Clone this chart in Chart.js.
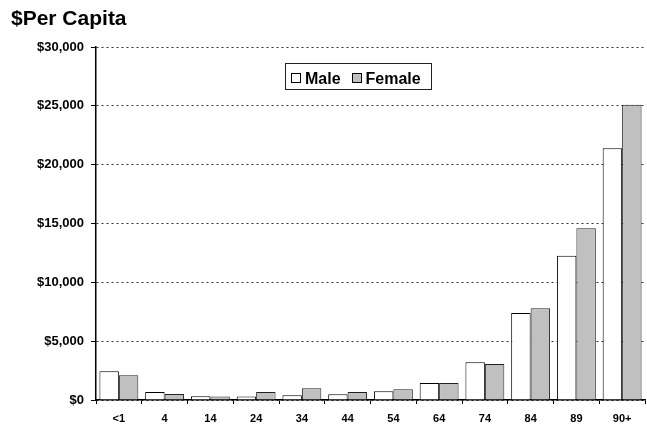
<!DOCTYPE html>
<html>
<head>
<meta charset="utf-8">
<script src="https://cdn.jsdelivr.net/npm/chart.js@4/dist/chart.umd.min.js"></script>
<style>
  html, body { margin: 0; padding: 0; background: #fff; }
  #wrap { width: 647px; height: 424px; position: relative; }
</style>
</head>
<body>
<div id="wrap"><canvas id="c" width="647" height="424"></canvas></div>
<script>
const chartTitle = '$Per Capita';
const categories = ['<1', '4', '14', '24', '34', '44', '54', '64', '74', '84', '89', '90+'];
const seriesNames = ['Male', 'Female'];
const maleValues = [2450, 680, 320, 300, 400, 490, 740, 1450, 3200, 7400, 12250, 21400];
const femaleValues = [2100, 510, 300, 680, 1000, 680, 910, 1450, 3050, 7800, 14600, 25100];
const yTickValues = [0, 5000, 10000, 15000, 20000, 25000, 30000];

const FONT = '"Liberation Sans", Arial, sans-serif';

const titlePlugin = {
  id: 'customTitle',
  afterDraw(chart) {
    const ctx = chart.ctx;
    ctx.save();
    ctx.font = 'bold 21px ' + FONT;
    ctx.fillStyle = '#000';
    ctx.textBaseline = 'alphabetic';
    ctx.textAlign = 'left';
    ctx.fillText(chartTitle, 11, 25);
    ctx.restore();
  }
};

const boxLegendPlugin = {
  id: 'boxLegend',
  afterDraw(chart) {
    const ctx = chart.ctx;
    const x0 = 285, y0 = 63, w = 146, h = 26;
    ctx.save();
    ctx.fillStyle = '#fff';
    ctx.fillRect(x0, y0, w, h);
    ctx.strokeStyle = '#222';
    ctx.lineWidth = 1;
    ctx.strokeRect(x0 + 0.5, y0 + 0.5, w, h);
    ctx.font = 'bold 16px ' + FONT;
    ctx.textBaseline = 'alphabetic';
    ctx.textAlign = 'left';
    const swatchX = [291, 352];
    const textX = [305, 365.5];
    chart.data.datasets.forEach((ds, i) => {
      ctx.fillStyle = ds.backgroundColor;
      ctx.fillRect(swatchX[i], 73, 10, 10);
      ctx.strokeStyle = '#000';
      ctx.strokeRect(swatchX[i] + 0.5, 73.5, 9, 9);
      ctx.fillStyle = '#000';
      ctx.fillText(ds.label, textX[i], 83.5);
    });
    ctx.restore();
  }
};

new Chart(document.getElementById('c'), {
  type: 'bar',
  data: {
    labels: categories,
    datasets: [
      { label: seriesNames[0], data: maleValues, backgroundColor: '#ffffff', borderColor: '#000000', borderWidth: 1 },
      { label: seriesNames[1], data: femaleValues, backgroundColor: '#c0c0c0', borderColor: '#222222', borderWidth: 1 }
    ]
  },
  options: {
    responsive: false,
    devicePixelRatio: 1,
    animation: false,
    layout: { padding: { left: 0, right: 2, top: 47, bottom: 0 } },
    datasets: { bar: { categoryPercentage: 0.85, barPercentage: 1.0 } },
    plugins: {
      legend: { display: false },
      title: { display: false },
      tooltip: { enabled: false }
    },
    scales: {
      x: {
        afterFit(scale) { scale.height = 24; },
        grid: {
          display: true, drawOnChartArea: false, offset: true,
          tickLength: 4, tickColor: '#000', tickWidth: 1
        },
        border: { display: true, color: '#000', width: 1.5 },
        ticks: {
          color: '#000', padding: 8,
          font: { family: FONT, size: 11, weight: 'bold' },
          maxRotation: 0, autoSkip: false
        }
      },
      y: {
        min: 0, max: 30000,
        afterFit(scale) { scale.width = 96; },
        afterBuildTicks(scale) { scale.ticks = yTickValues.map(v => ({ value: v })); },
        grid: {
          display: true, color: '#333', lineWidth: 1,
          tickLength: 5, tickColor: '#000', tickWidth: 1
        },
        border: { display: true, color: '#000', width: 1.5, dash: [2, 3] },
        ticks: {
          color: '#000', padding: 7,
          font: { family: FONT, size: 13, weight: 'bold' },
          callback: v => '$' + Number(v).toLocaleString('en-US')
        }
      }
    }
  },
  plugins: [titlePlugin, boxLegendPlugin]
});
</script>
</body>
</html>
